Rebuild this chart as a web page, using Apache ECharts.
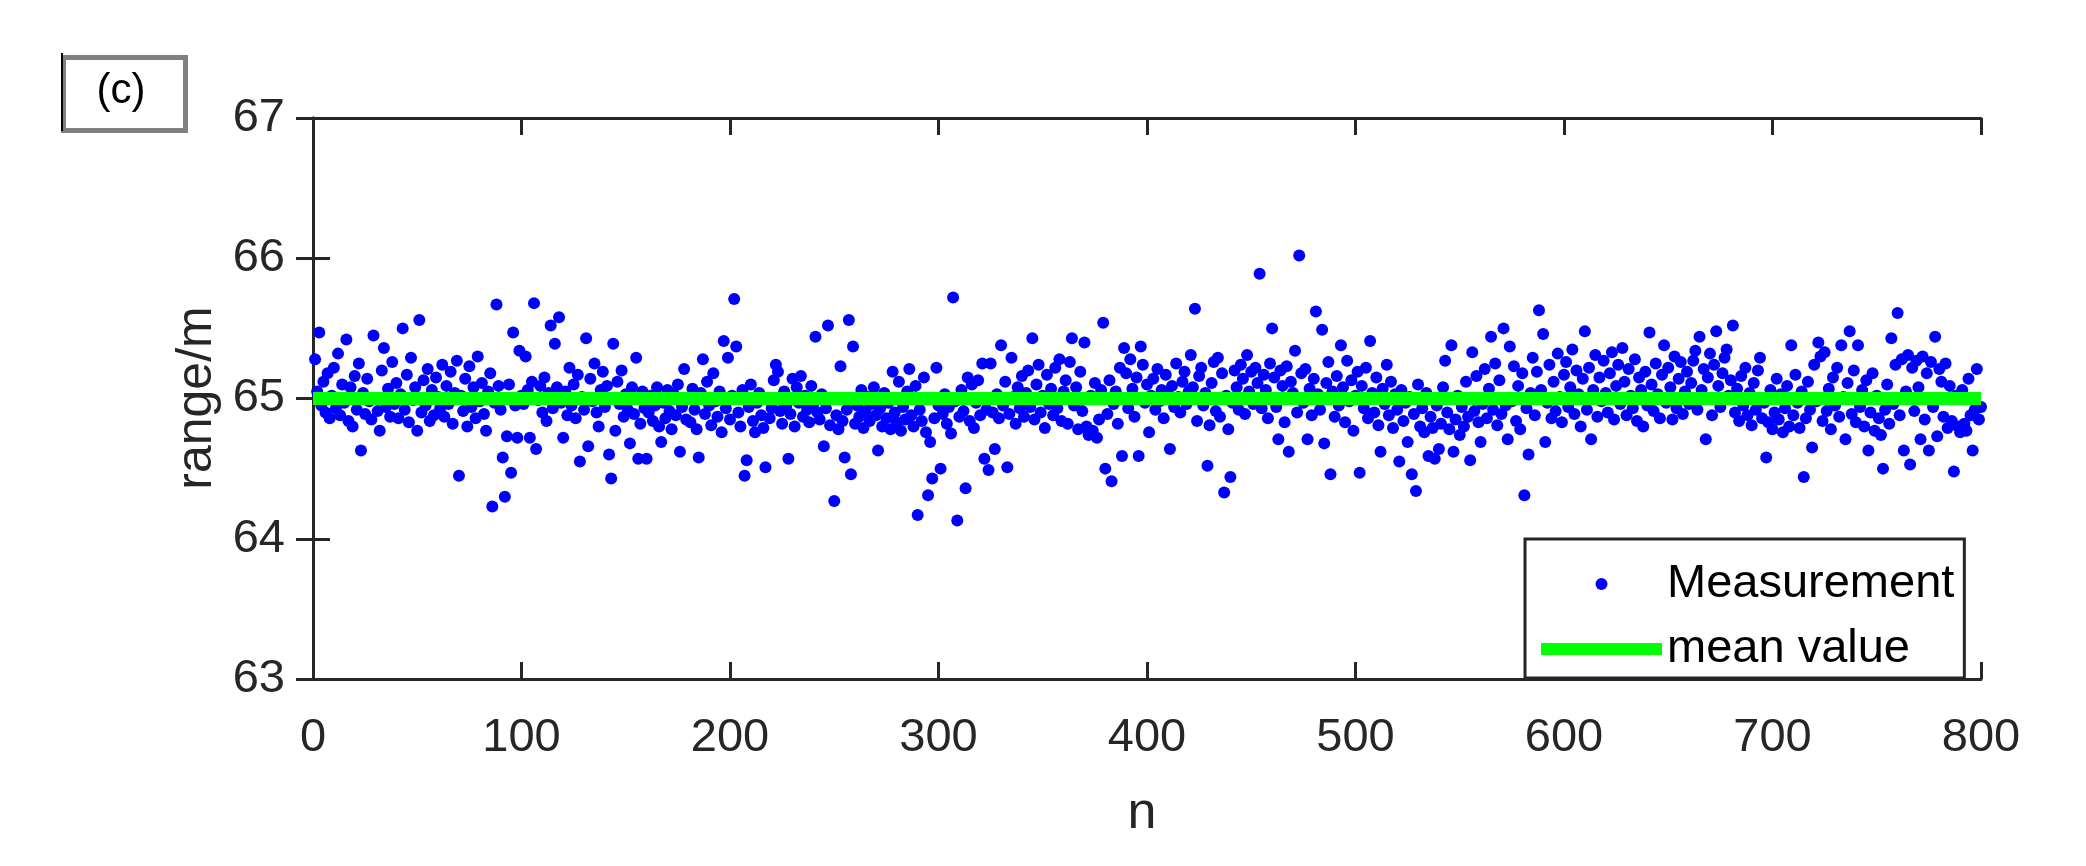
<!DOCTYPE html>
<html>
<head>
<meta charset="utf-8">
<script src="https://cdn.jsdelivr.net/npm/echarts@6/dist/echarts.min.js"></script>
<style>
html,body{margin:0;padding:0;background:#fff;}
#chart{width:2086px;height:866px;}
</style>
</head>
<body>
<div id="chart"></div>
<script>
// ---- data ----
const xTicks = [0, 100, 200, 300, 400, 500, 600, 700, 800];
const yTicks = [63, 64, 65, 66, 67];
const seriesNames = ['Measurement', 'mean value'];
const meanValue = [65.0, 65.0];
const meanRange = [0, 800];
const range_m = [
65.28,65.05,65.47,64.95,65.12,64.90,65.18,64.86,65.02,65.22,64.93,65.32,64.88,65.10,64.97,65.42,64.84,65.08,64.80,65.16,
64.92,65.25,64.63,65.04,64.89,65.14,64.98,64.85,65.45,65.00,64.91,64.77,65.20,65.36,64.94,65.07,64.87,65.26,64.96,65.11,
64.86,65.03,65.50,64.92,65.17,64.83,65.29,64.99,65.08,64.77,65.56,64.90,65.13,64.95,65.21,64.84,65.06,64.88,65.15,65.01,
64.93,65.24,64.87,65.09,64.96,65.19,64.82,65.04,65.27,64.45,65.02,64.91,65.14,64.80,65.23,64.94,65.08,64.86,65.30,64.98,
65.11,64.89,64.77,65.05,65.18,64.23,64.97,65.67,65.09,64.92,64.58,64.30,64.73,65.10,64.47,65.47,64.95,64.72,65.34,65.02,
64.96,65.30,65.06,64.72,65.12,65.68,64.64,64.99,65.09,64.90,65.15,64.84,65.04,65.52,64.93,65.39,65.08,65.58,64.97,64.72,
65.05,64.88,65.22,64.95,65.10,64.86,65.17,64.55,65.01,64.92,65.43,64.66,65.14,64.98,65.25,64.90,64.80,65.06,65.19,64.94,
65.09,64.60,64.43,65.39,64.77,65.12,64.96,65.20,64.87,65.03,64.92,64.68,65.08,64.89,65.29,64.57,64.82,65.05,64.93,64.57,
64.90,65.02,64.84,64.95,65.08,64.80,64.69,64.97,64.86,65.06,64.91,64.78,65.03,64.88,65.10,64.62,64.94,65.21,64.85,65.00,
64.83,65.07,64.92,64.78,64.58,65.04,65.28,64.89,65.12,64.95,64.81,65.18,64.98,64.87,65.05,64.76,65.41,64.93,65.29,64.85,
65.02,65.71,65.37,64.90,64.80,65.06,64.45,64.56,64.94,65.10,64.84,64.76,64.97,65.04,64.88,64.79,64.51,65.00,64.86,64.93,
65.13,65.24,65.19,64.91,64.82,65.05,64.95,64.57,64.89,65.14,64.80,65.08,64.97,65.16,64.87,65.02,64.92,64.83,65.09,64.96,
65.44,64.90,64.85,65.03,64.66,64.93,65.52,64.81,65.00,64.27,64.88,64.78,65.23,64.84,64.58,64.92,65.56,64.46,65.37,64.82,
64.95,64.87,65.06,64.79,64.91,65.01,64.84,64.96,65.08,64.88,64.63,64.93,64.80,65.04,64.86,64.97,64.78,65.19,64.90,64.83,
65.12,64.77,64.94,64.85,65.05,65.21,64.88,64.80,65.09,64.17,64.92,64.84,65.15,64.76,64.31,64.69,64.43,64.86,65.22,64.95,
64.50,64.89,65.03,64.82,64.94,64.75,65.72,64.98,64.13,64.87,65.06,64.91,64.36,65.15,64.84,65.10,64.79,64.97,65.13,64.88,
65.25,64.57,64.92,64.49,65.25,64.90,64.64,65.03,64.86,65.38,64.95,65.12,64.51,64.89,65.29,65.01,64.82,65.08,64.93,65.16,
64.87,65.04,65.20,64.94,65.43,64.85,65.10,65.24,64.90,65.02,64.79,65.17,64.96,65.07,64.88,65.22,64.93,65.28,64.84,65.05,
65.13,64.82,65.26,65.43,64.95,65.08,64.78,65.19,64.91,65.40,64.80,64.74,65.02,64.77,65.11,64.72,64.85,65.06,65.54,64.50,
64.89,65.13,64.41,64.96,65.05,64.82,65.22,64.59,65.36,65.18,64.93,65.28,65.07,64.87,65.15,64.59,65.37,65.24,64.97,65.10,
64.76,65.02,65.14,64.92,65.21,64.98,65.06,64.86,65.17,65.03,64.64,65.09,64.94,65.25,65.01,64.90,65.12,65.19,64.96,65.05,
65.31,65.08,65.64,64.84,65.16,65.22,64.95,65.04,64.52,64.81,65.11,65.26,64.91,65.29,64.87,65.18,64.33,65.02,64.78,64.44,
64.97,65.20,65.08,64.92,65.24,65.14,64.89,65.31,65.05,65.19,64.96,65.22,65.11,65.89,64.93,65.17,65.06,64.86,65.25,65.50,
65.15,64.94,64.71,65.20,65.09,64.83,65.23,64.62,65.12,65.04,65.34,64.90,66.02,65.18,64.97,65.21,64.71,65.07,64.88,65.14,
65.62,65.03,64.92,65.49,64.68,65.11,65.26,64.46,65.05,64.87,65.16,64.95,65.38,65.08,64.83,65.27,64.98,65.13,64.77,65.02,
65.19,64.47,65.09,64.93,65.22,64.86,65.41,65.04,64.90,65.15,64.81,64.62,65.07,64.96,65.24,64.88,65.12,64.79,65.03,64.92,
64.55,65.06,64.84,64.97,64.69,65.01,64.46,64.89,64.34,65.10,64.80,64.93,64.76,65.04,64.59,64.87,64.79,64.57,64.95,64.64,
64.82,65.08,65.27,64.90,64.78,65.38,64.62,64.85,65.02,64.74,64.94,64.80,65.12,64.87,64.56,65.33,64.91,65.16,64.83,64.69,
64.96,65.21,64.86,65.07,65.44,64.92,65.25,64.81,65.13,64.89,65.50,64.95,64.71,65.37,64.98,65.23,64.84,65.09,64.78,65.18,
64.31,64.93,64.60,65.04,65.29,64.88,65.19,65.63,65.06,65.46,64.69,64.97,65.24,64.86,65.12,64.91,65.32,65.01,64.83,65.17,
65.26,64.94,65.08,65.35,64.89,65.20,65.03,64.80,65.14,65.48,64.92,65.22,64.71,65.06,65.31,64.87,65.15,64.98,65.27,65.04,
64.90,65.18,65.33,64.85,65.09,65.24,64.96,65.36,65.12,64.88,65.21,65.02,64.93,65.28,64.84,65.15,65.06,64.80,65.19,64.95,
65.47,65.10,64.91,65.25,65.03,64.86,65.17,65.38,64.97,65.22,65.08,64.85,65.30,64.93,65.14,65.26,64.89,65.05,65.19,64.96,
65.11,65.27,65.34,64.92,65.44,65.06,65.21,64.71,65.15,65.32,64.88,65.24,65.48,65.09,64.94,65.18,65.29,65.35,65.02,65.13,
65.52,64.90,65.07,64.84,65.16,64.95,65.22,64.88,65.04,64.81,65.11,64.92,65.20,65.29,64.86,64.97,64.58,64.83,65.06,64.78,
64.90,65.14,64.85,65.03,64.76,64.93,65.09,64.80,65.38,64.88,65.17,64.97,64.79,65.05,64.44,64.86,65.12,64.92,64.65,65.24,
64.98,65.40,65.30,64.84,65.33,64.91,65.07,64.78,65.15,64.95,65.22,64.87,65.38,65.01,64.71,65.11,65.48,64.89,65.20,64.83,
65.38,64.94,65.06,64.80,65.13,64.63,64.90,65.18,64.77,65.02,64.86,64.74,64.50,64.92,65.10,64.82,65.43,64.96,65.24,65.61,
64.88,65.28,64.63,65.05,65.31,64.53,65.22,64.91,65.27,65.08,64.71,65.30,64.85,65.18,64.63,65.26,64.94,65.44,64.73,65.21,
65.12,64.87,65.25,64.79,65.09,64.84,64.48,65.02,64.80,64.76,65.06,64.82,64.77,65.14,64.88,64.63,64.92,65.21,64.85,64.94
];
const sampleIndex = range_m.map((v, i) => i + 1);

// ---- chart ----
const FONT = '"Liberation Sans", Arial, Helvetica, sans-serif';
const AX = '#262626';
const chart = echarts.init(document.getElementById('chart'), null, {renderer: 'canvas'});

const axisCommon = {
  axisLine: {show: true, lineStyle: {color: AX, width: 3}},
  axisTick: {show: true, inside: true, length: 17, lineStyle: {color: AX, width: 3}},
  splitLine: {show: false}
};

chart.setOption({
  animation: false,
  backgroundColor: '#ffffff',
  grid: {left: 313, right: 105, top: 118, bottom: 187, containLabel: false},
  xAxis: [
    Object.assign({
      type: 'value', position: 'bottom', min: xTicks[0], max: xTicks[xTicks.length - 1], interval: 100,
      axisLabel: {show: true, fontSize: 47, color: AX, fontFamily: FONT, margin: 36}
    }, axisCommon),
    Object.assign({
      type: 'value', position: 'top', min: xTicks[0], max: xTicks[xTicks.length - 1], interval: 100,
      axisLabel: {show: false}
    }, axisCommon)
  ],
  yAxis: [
    Object.assign({
      type: 'value', position: 'left', min: yTicks[0], max: yTicks[yTicks.length - 1], interval: 1,
      axisLabel: {show: true, fontSize: 47, color: AX, fontFamily: FONT, margin: 28}
    }, axisCommon),
    Object.assign({
      type: 'value', position: 'right', min: yTicks[0], max: yTicks[yTicks.length - 1], interval: 1,
      axisLabel: {show: false}
    }, axisCommon)
  ],
  legend: {
    show: true,
    orient: 'vertical',
    left: 1525, top: 539,
    selectedMode: false,
    itemWidth: 121, itemHeight: 12, itemGap: 15,
    padding: [20, 10, 4, 16],
    backgroundColor: '#ffffff',
    borderColor: AX, borderWidth: 3,
    textStyle: {fontSize: 47, color: '#000', fontFamily: FONT, lineHeight: 50},
    data: [
      {name: seriesNames[0], icon: 'circle'},
      {name: seriesNames[1], icon: 'rect'}
    ]
  },
  graphic: [
    {type: 'rect', left: 61, top: 55, shape: {width: 122, height: 73},
     style: {fill: '#fff', stroke: '#808080', lineWidth: 5}, z: 10},
    {type: 'line', shape: {x1: 62, y1: 53, x2: 62, y2: 131}, style: {stroke: '#000', lineWidth: 2}, z: 11},
    {type: 'text', x: 121, y: 91, style: {text: '(c)', font: '42px ' + FONT, fill: '#000', textAlign: 'center', textVerticalAlign: 'middle'}, z: 12},
    {type: 'text', x: 197, y: 398, rotation: Math.PI / 2,
     style: {text: 'range/m', font: '50px ' + FONT, fill: AX, textAlign: 'center', textVerticalAlign: 'middle'}, z: 12},
    {type: 'text', x: 1142, y: 814,
     style: {text: 'n', font: '52px ' + FONT, fill: AX, textAlign: 'center', textVerticalAlign: 'middle'}, z: 12}
  ],
  series: [
    {
      name: seriesNames[0], type: 'scatter',
      xAxisIndex: 0, yAxisIndex: 0,
      symbol: 'circle', symbolSize: 12,
      itemStyle: {color: '#0000ff', opacity: 1},
      data: sampleIndex.map((n, i) => [n, range_m[i]]),
      z: 2
    },
    {
      name: seriesNames[1], type: 'line',
      xAxisIndex: 0, yAxisIndex: 0,
      symbol: 'none',
      lineStyle: {color: '#00ff00', width: 13},
      itemStyle: {color: '#00ff00'},
      data: meanRange.map((x, i) => [x, meanValue[i]]),
      z: 3
    }
  ]
});
</script>
</body>
</html>
